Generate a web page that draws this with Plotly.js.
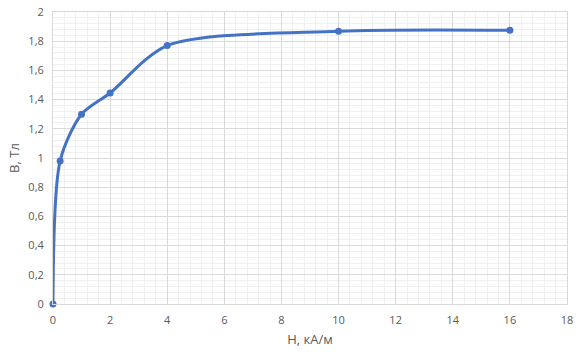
<!DOCTYPE html>
<html><head><meta charset="utf-8">
<script src="https://cdn.plot.ly/plotly-3.0.1.min.js"></script>
<style>html,body{margin:0;padding:0;background:#fff}</style>
</head><body>
<div id="chart" style="width:581px;height:360px"></div>
<script>
const H = [0, 0.25, 1, 2, 4, 10, 16];
const B = [0, 0.98, 1.30, 1.445, 1.77, 1.868, 1.875];
const xTitle = 'H, кА/м';
const yTitle = 'B, Тл';

const trace = {
  x: H, y: B, type: 'scatter', mode: 'lines+markers',
  line: {color: '#4472C4', width: 3, shape: 'spline', smoothing: 0.8},
  marker: {color: '#4472C4', size: 7},
  cliponaxis: false, hoverinfo: 'skip'
};
const axFont = {family: 'Open Sans, Liberation Sans, sans-serif', size: 11, color: '#595959'};
const layout = {
  width: 581, height: 360,
  margin: {l: 53, r: 14, t: 12, b: 56},
  separators: ', ',
  showlegend: false,
  paper_bgcolor: '#fff', plot_bgcolor: '#fff',
  xaxis: {
    range: [0, 18], dtick: 2, tick0: 0, fixedrange: true,
    showgrid: true, gridcolor: '#d9d9d9', gridwidth: 1,
    minor: {dtick: 0.4, showgrid: true, gridcolor: '#f0f0f0', gridwidth: 1},
    showline: true, linecolor: '#d9d9d9', mirror: true,
    zeroline: false, ticks: '', tickfont: axFont, ticklabelstandoff: 6,
    title: {text: xTitle, font: {family: axFont.family, size: 13, color: '#595959'}, standoff: 8}
  },
  yaxis: {
    range: [0, 2], dtick: 0.2, tick0: 0, fixedrange: true,
    showgrid: true, gridcolor: '#d9d9d9', gridwidth: 1,
    minor: {dtick: 0.04, showgrid: true, gridcolor: '#f0f0f0', gridwidth: 1},
    showline: true, linecolor: '#d9d9d9', mirror: true,
    zeroline: false, ticks: '', tickfont: axFont, ticklabelstandoff: 6,
    title: {text: yTitle, font: {family: axFont.family, size: 13, color: '#595959'}, standoff: 5}
  }
};
Plotly.newPlot('chart', [trace], layout, {displayModeBar: false, staticPlot: true});
</script>
</body></html>
